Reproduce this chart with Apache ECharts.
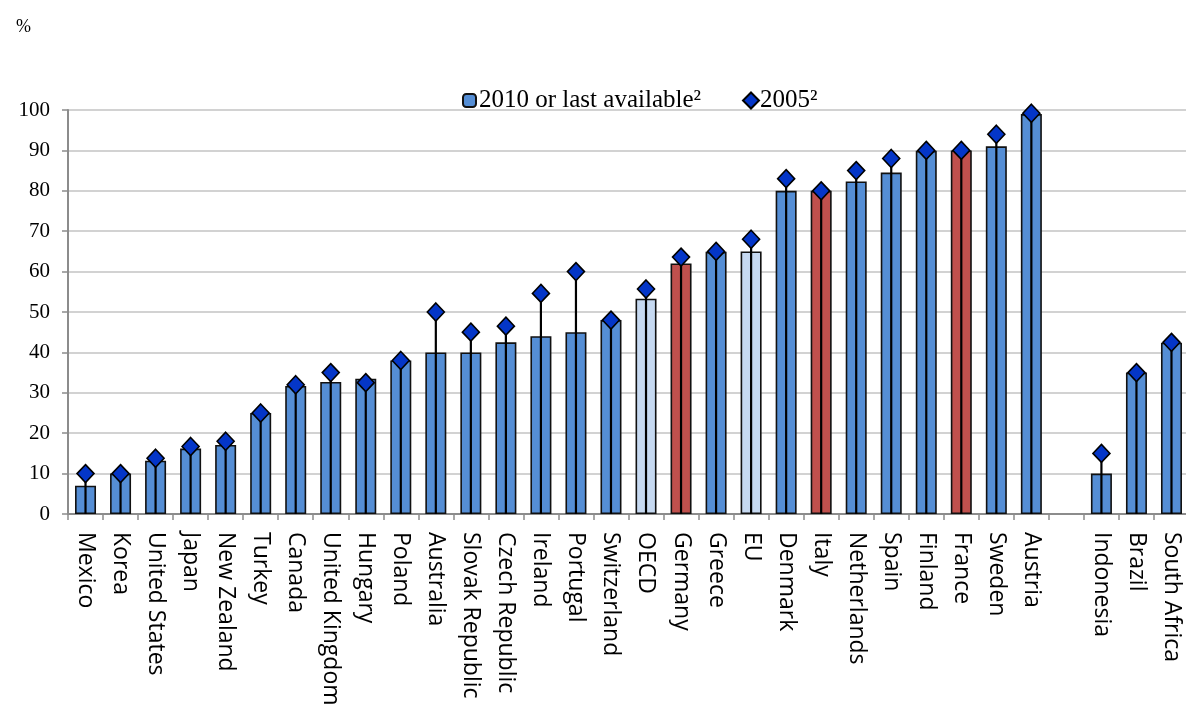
<!DOCTYPE html>
<html>
<head>
<meta charset="utf-8">
<style>
  html, body { margin: 0; padding: 0; background: #fff; }
  #chart { width: 1186px; height: 704px; }
</style>
<script src="https://cdn.jsdelivr.net/npm/echarts@6/dist/echarts.min.js"></script>
</head>
<body>
<div id="chart"></div>
<script>
// Countries (the empty slot separates OECD members from partner economies)
const categories = ['Mexico', 'Korea', 'United States', 'Japan', 'New Zealand', 'Turkey', 'Canada',
  'United Kingdom', 'Hungary', 'Poland', 'Australia', 'Slovak Republic', 'Czech Republic', 'Ireland',
  'Portugal', 'Switzerland', 'OECD', 'Germany', 'Greece', 'EU', 'Denmark', 'Italy', 'Netherlands',
  'Spain', 'Finland', 'France', 'Sweden', 'Austria', '', 'Indonesia', 'Brazil', 'South Africa'];

// 2010 or last available (%)
const values2010 = [7, 10, 13.2, 16.2, 17.1, 25, 31.7, 32.7, 33.5, 38, 40, 40, 42.5, 44, 45, 48, 53.3,
  62, 64.9, 65, 80, 80, 82.3, 84.5, 89.9, 90, 91, 99, null, 10, 35, 42.4];

// 2005 (%)
const values2005 = [10, 10, 13.8, 16.7, 18, 25, 32, 35, 32.5, 38, 50, 45, 46.5, 54.6, 60, 48, 55.7,
  63.6, 65, 68, 83, 80, 85, 88, 90, 90, 94, 99.2, null, 15, 35, 42.5];

// Aggregates and highlighted countries
const aggregates = ['OECD', 'EU'];
const highlighted = ['Germany', 'Italy', 'France'];

const yTicks = { min: 0, max: 100, interval: 10 };

const NAME_2010 = '2010 or last available\u00B2';
const NAME_2005 = '2005\u00B2';

const SERIF = "'Liberation Serif', 'Times New Roman', serif";
const SANS = "'Open Sans', 'Noto Sans', sans-serif";

const BLUE = '#558ED5';
const LIGHT = '#C6D9F1';
const RED = '#C0504D';
const DIAMOND = '#0436C8';

function barColor(name) {
  if (aggregates.includes(name)) return LIGHT;
  if (highlighted.includes(name)) return RED;
  return BLUE;
}

const barData = values2010.map((v, i) => ({
  value: v,
  itemStyle: { color: barColor(categories[i]) }
}));

const stemData = values2005.map((v, i) => [i, v]);

const chart = echarts.init(document.getElementById('chart'), null, { renderer: 'canvas' });

chart.setOption({
  animation: false,
  backgroundColor: '#fff',
  title: {
    text: '%',
    left: 11,
    top: 13,
    textStyle: { fontFamily: SERIF, fontSize: 18, fontWeight: 'normal', color: '#000' }
  },
  legend: [
    {
      data: [NAME_2010],
      left: 457,
      top: 83,
      itemWidth: 13,
      itemHeight: 13,
      itemGap: 4,
      selectedMode: false,
      textStyle: { fontFamily: SERIF, fontSize: 25, color: '#000', padding: [0, 0, 0, -2] }
    },
    {
      data: [NAME_2005],
      left: 737,
      top: 83,
      itemWidth: 16,
      itemHeight: 16,
      selectedMode: false,
      textStyle: { fontFamily: SERIF, fontSize: 25, color: '#000', padding: [0, 0, 0, -4] }
    }
  ],
  grid: { left: 68, top: 110, width: 1121, height: 404, outerBoundsMode: 'none', containLabel: false },
  xAxis: {
    type: 'category',
    data: categories,
    boundaryGap: true,
    axisLine: { show: true, lineStyle: { color: '#8C8C8C', width: 2 } },
    axisTick: { show: true, length: 6, alignWithLabel: false, interval: 0, lineStyle: { color: '#8C8C8C', width: 1.5 } },
    axisLabel: {
      interval: 0,
      rotate: -90,
      margin: 18,
      fontFamily: SANS,
      fontSize: 23,
      color: '#000'
    },
    splitLine: { show: false }
  },
  yAxis: {
    type: 'value',
    min: yTicks.min,
    max: yTicks.max,
    interval: yTicks.interval,
    axisLine: { show: true, lineStyle: { color: '#8C8C8C', width: 2 } },
    axisTick: { show: true, length: 6, lineStyle: { color: '#8C8C8C', width: 1.5 } },
    axisLabel: { fontFamily: SERIF, fontSize: 21, color: '#000', margin: 18 },
    splitLine: { show: true, lineStyle: { color: '#C3C3C3', width: 1.6 } }
  },
  series: [
    {
      name: NAME_2010,
      type: 'bar',
      data: barData,
      barWidth: 21,
      itemStyle: { color: BLUE, borderColor: '#111', borderWidth: 1.6 },
      z: 2
    },
    {
      name: 'stem',
      type: 'custom',
      data: stemData,
      encode: { x: 0, y: 1 },
      z: 3,
      silent: true,
      renderItem(params, api) {
        const v = api.value(1);
        if (v == null || isNaN(v)) return;
        const top = api.coord([api.value(0), v]);
        const base = api.coord([api.value(0), 0]);
        return {
          type: 'line',
          shape: { x1: top[0], y1: base[1], x2: top[0], y2: top[1] },
          style: { stroke: '#000', lineWidth: 2.2 }
        };
      }
    },
    {
      name: NAME_2005,
      type: 'scatter',
      data: values2005,
      symbol: 'diamond',
      symbolSize: [17, 18],
      itemStyle: { color: DIAMOND, borderColor: '#000', borderWidth: 1.6, opacity: 1 },
      z: 4
    }
  ]
});
</script>
</body>
</html>
